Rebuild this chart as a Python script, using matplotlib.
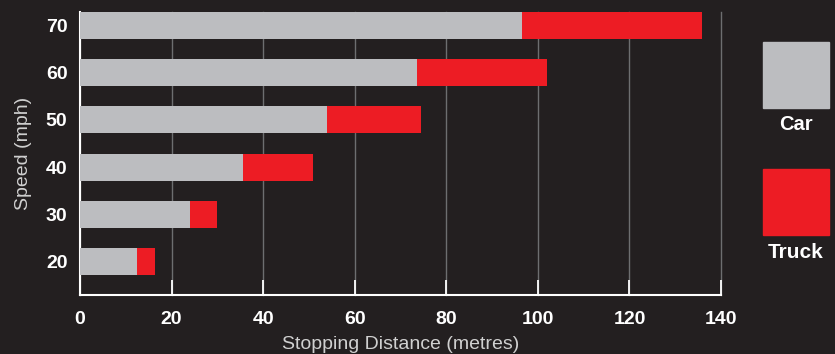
import matplotlib.pyplot as plt
from matplotlib.patches import Rectangle

speeds = ['20', '30', '40', '50', '60', '70']
car = [12.4, 24.0, 35.6, 53.9, 73.6, 96.5]
truck = [3.9, 6.0, 15.3, 20.6, 28.5, 39.3]

bg = '#231f20'
grey = '#bcbdc0'
red = '#ed1c24'
plt.rcParams['font.family'] = ['Liberation Sans', 'DejaVu Sans']

fig = plt.figure(figsize=(8.35, 3.54), dpi=100, facecolor=bg)
ax = fig.add_axes([0.0958, 0.1667, 0.7677, 0.7993], facecolor=bg)

y = range(len(speeds))
ax.barh(y, car, height=0.57, color=grey, zorder=3)
ax.barh(y, truck, left=car, height=0.57, color=red, zorder=3)

ax.set_xlim(0, 140)
ax.set_ylim(-0.7, 5.28)
ax.set_xticks(range(0, 141, 20))
ax.set_yticks(list(y))
ax.set_yticklabels(speeds)
ax.grid(axis='x', color='#6d6e70', linewidth=1.0, zorder=0, clip_on=False)

for s in ['top', 'right']:
    ax.spines[s].set_visible(False)
for s in ['left', 'bottom']:
    ax.spines[s].set_color('white')
    ax.spines[s].set_linewidth(1.5)

ax.tick_params(axis='x', direction='in', length=11, width=1.3, color='white',
               labelcolor='white', labelsize=14, pad=11.5)
ax.tick_params(axis='y', length=0, labelcolor='white', labelsize=14, pad=9)
for lab in ax.get_xticklabels() + ax.get_yticklabels():
    lab.set_fontweight('bold')

ax.set_xlabel('Stopping Distance (metres)', color='#d0d0d0', fontsize=14, labelpad=6)
ax.set_ylabel('Speed (mph)', color='#d0d0d0', fontsize=14, labelpad=10)

# legend swatches on the right
W, H = 835, 354
fig.patches.append(Rectangle((763 / W, 1 - 108 / H), 66 / W, 66 / H,
                             transform=fig.transFigure, color=grey))
fig.patches.append(Rectangle((763 / W, 1 - 235 / H), 66 / W, 66 / H,
                             transform=fig.transFigure, color=red))
fig.text(796 / W, 1 - 125 / H, 'Car', color='white', fontsize=14.5,
         fontweight='bold', ha='center', va='center')
fig.text(796 / W, 1 - 253 / H, 'Truck', color='white', fontsize=15,
         fontweight='bold', ha='center', va='center')

fig.savefig('out.png', dpi=100, facecolor=bg)
